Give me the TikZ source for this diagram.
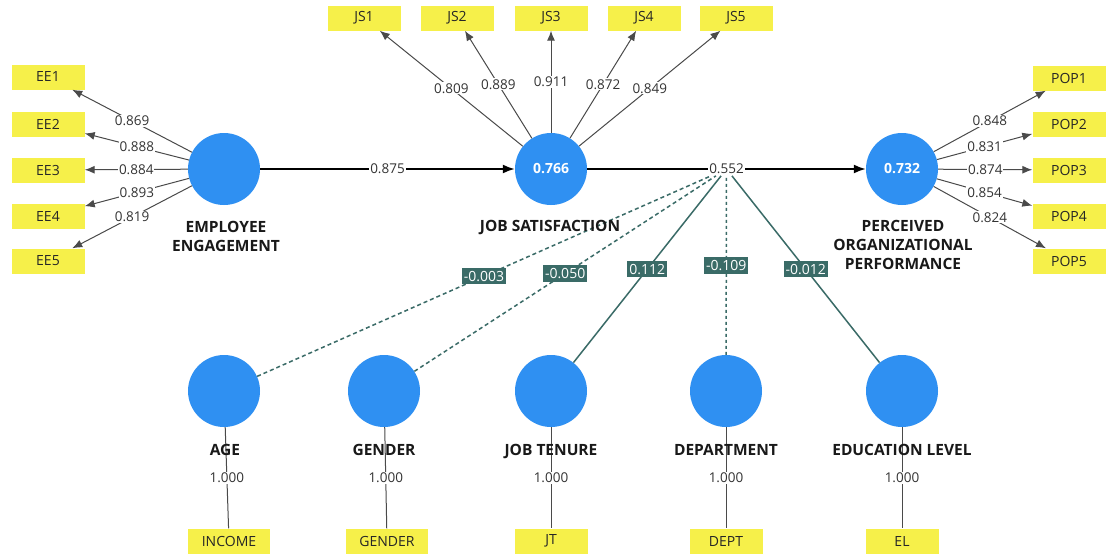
\documentclass[tikz,border=0pt]{standalone}
\usepackage{fontspec}
\setmainfont{Open Sans}
\usetikzlibrary{arrows.meta}
\definecolor{lvblue}{HTML}{2F90F2}
\definecolor{indyellow}{HTML}{F6F04A}
\definecolor{loadgray}{HTML}{4A4A4A}
\definecolor{modteal}{HTML}{3A6B67}
\begin{document}
\begin{tikzpicture}[x=1pt,y=-1pt,
  lv/.style={circle,fill=lvblue,minimum size=72pt,inner sep=0pt,text=white,font=\bfseries\fontsize{14}{16}\selectfont},
  ind/.style={fill=indyellow,minimum width=73pt,minimum height=25pt,inner sep=0pt,font=\fontsize{14}{15}\selectfont,text=black!85},
  ld/.style={draw=loadgray,line width=1pt,-{Latex[length=10pt,width=8pt]}},
  lbl/.style={fill=white,inner sep=1pt,font=\fontsize{13.5}{15}\selectfont,text=black!80},
  strpath/.style={draw=black,line width=1.8pt,-{Latex[length=12pt,width=9pt]}},
  lvname/.style={font=\bfseries\fontsize{15.5}{19}\selectfont,align=center,text=black!90},
  modline/.style={draw=modteal,line width=1.5pt},
  modlbl/.style={fill=modteal,text=white,inner xsep=2pt,inner ysep=3pt,font=\fontsize{14}{15}\selectfont},
  single/.style={draw=loadgray,line width=1pt}
]
\fill[white] (0,0) rectangle (1108,554);
\useasboundingbox (0,0) rectangle (1108,554);

% latent variables
\node[lv] (ee) at (224,169) {};
\node[lv] (js) at (551,169) {0.766};
\node[lv] (pop) at (902,169) {0.732};
\node[lv] (age) at (224,391) {};
\node[lv] (gen) at (384,391) {};
\node[lv] (jt) at (551,391) {};
\node[lv] (dep) at (726,391) {};
\node[lv] (el) at (902,391) {};

% indicators
\node[ind] (ee1) at (48,77) {EE1};
\node[ind] (ee2) at (48,124) {EE2};
\node[ind] (ee3) at (48,170) {EE3};
\node[ind] (ee4) at (48,216) {EE4};
\node[ind] (ee5) at (48,261) {EE5};
\node[ind] (js1) at (364,18) {JS1};
\node[ind] (js2) at (457,18) {JS2};
\node[ind] (js3) at (551,18) {JS3};
\node[ind] (js4) at (644,18) {JS4};
\node[ind] (js5) at (736,18) {JS5};
\node[ind] (pop1) at (1069,78) {POP1};
\node[ind] (pop2) at (1069,124) {POP2};
\node[ind] (pop3) at (1069,170) {POP3};
\node[ind] (pop4) at (1069,216) {POP4};
\node[ind] (pop5) at (1069,261) {POP5};
\node[ind,minimum width=82pt] (inc) at (229,541) {INCOME};
\node[ind,minimum width=82pt] (gend) at (387,541) {GENDER};
\node[ind] (jti) at (551,541) {JT};
\node[ind] (dept) at (726,541) {DEPT};
\node[ind] (eli) at (902,541) {EL};

% outer loadings
\draw[ld] (ee) -- node[lbl] {0.869} (ee1);
\draw[ld] (ee) -- node[lbl] {0.888} (ee2);
\draw[ld] (ee) -- node[lbl] {0.884} (ee3);
\draw[ld] (ee) -- node[lbl] {0.893} (ee4);
\draw[ld] (ee) -- node[lbl] {0.819} (ee5);
\draw[ld] (js) -- node[lbl] {0.809} (js1);
\draw[ld] (js) -- node[lbl] {0.889} (js2);
\draw[ld] (js) -- node[lbl] {0.911} (js3);
\draw[ld] (js) -- node[lbl] {0.872} (js4);
\draw[ld] (js) -- node[lbl] {0.849} (js5);
\draw[ld] (pop) -- node[lbl] {0.848} (pop1);
\draw[ld] (pop) -- node[lbl] {0.831} (pop2);
\draw[ld] (pop) -- node[lbl] {0.874} (pop3);
\draw[ld] (pop) -- node[lbl] {0.854} (pop4);
\draw[ld] (pop) -- node[lbl] {0.824} (pop5);

% single-item constructs
\draw[single] (age) -- node[lbl] {1.000} (inc);
\draw[single] (gen) -- node[lbl] {1.000} (gend);
\draw[single] (jt) -- node[lbl] {1.000} (jti);
\draw[single] (dep) -- node[lbl] {1.000} (dept);
\draw[single] (el) -- node[lbl] {1.000} (eli);

% structural paths
\draw[strpath] (ee) -- node[lbl] {0.875} (js);
\draw[strpath] (js) -- node[lbl] (m) {0.552} (pop);

% moderating effects
\draw[modline,dash pattern=on 4pt off 3pt] (age) -- node[modlbl] {-0.003} (m);
\draw[modline,dash pattern=on 4pt off 3pt] (gen) -- node[modlbl] {-0.050} (m);
\draw[modline] (jt) -- node[modlbl] {0.112} (m);
\draw[modline,dash pattern=on 3pt off 3pt] (dep) -- node[modlbl] {-0.109} (m);
\draw[modline] (el) -- node[modlbl] {-0.012} (m);

% construct names
\node[lvname] (eename) at (226,236) {EMPLOYEE\\ENGAGEMENT};
\node[lvname,anchor=base] (jsname) at (550,231) {JOB SATISFACTION};
\node[lvname] (popname) at (903,245) {PERCEIVED\\ORGANIZATIONAL\\PERFORMANCE};
\node[lvname,anchor=base] (agename) at (225,455) {AGE};
\node[lvname,anchor=base] (genname) at (384,455) {GENDER};
\node[lvname,anchor=base] (jtname) at (551,455) {JOB TENURE};
\node[lvname,anchor=base] (depname) at (726,455) {DEPARTMENT};
\node[lvname,anchor=base] (elname) at (902,455) {EDUCATION LEVEL};
\end{tikzpicture}
\end{document}
